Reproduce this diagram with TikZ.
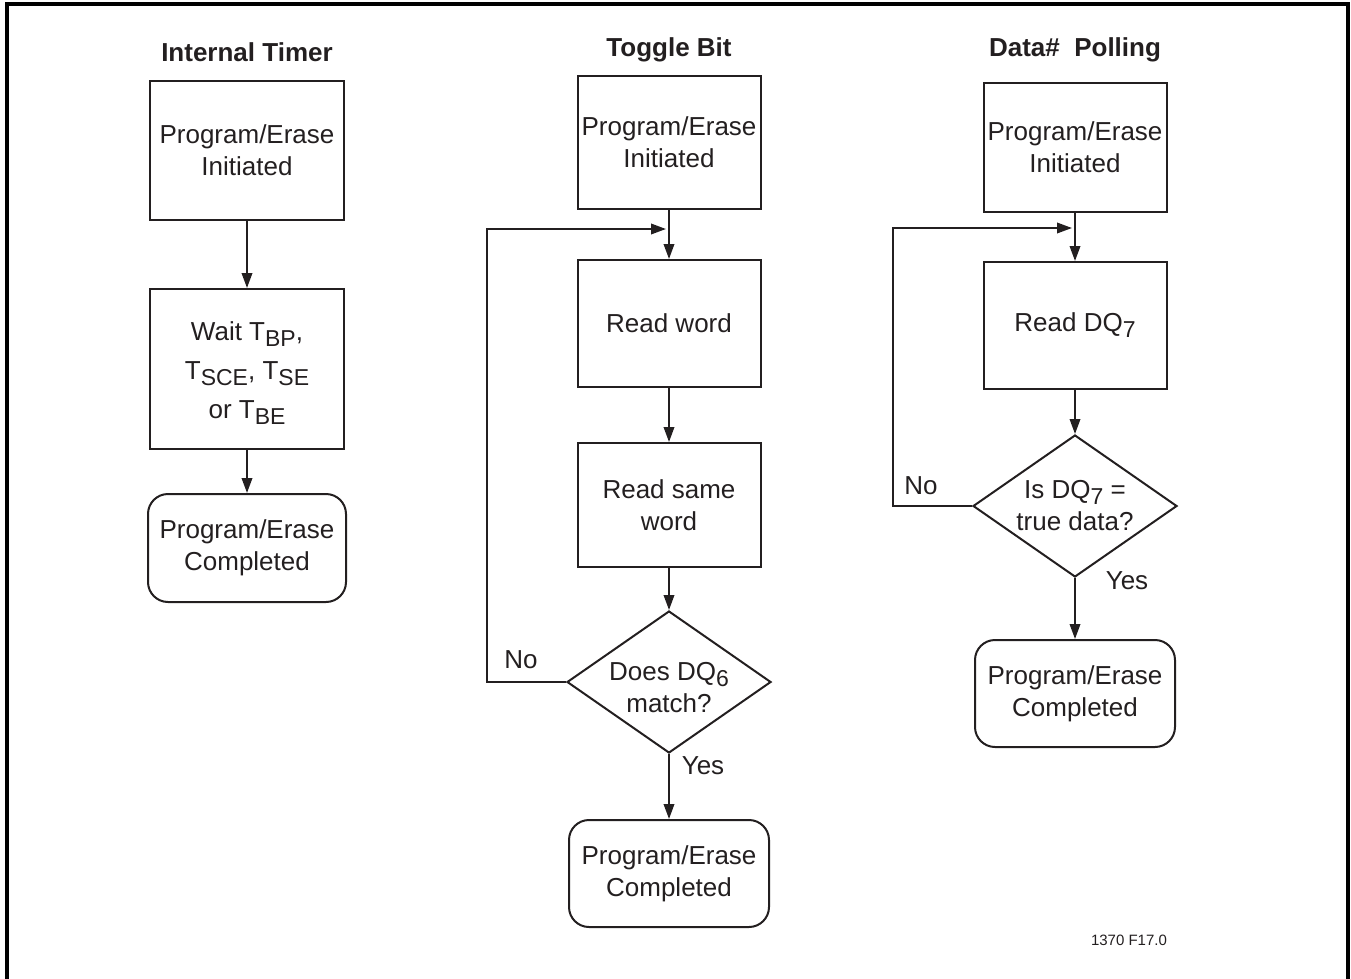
\documentclass[tikz,border=0pt]{standalone}
\usepackage{fontspec}
\setmainfont{Liberation Sans}
\usetikzlibrary{shapes.geometric,arrows.meta}
\definecolor{ink}{HTML}{231F20}
\newcommand{\sbs}[1]{\raisebox{-6pt}{\fontsize{23}{23}\selectfont #1}}
\tikzset{
  every node/.style={text=ink},
  txt/.style={font=\fontsize{26}{32}\selectfont, align=center},
  ttl/.style={font=\fontsize{26}{32}\selectfont\bfseries},
  stepbox/.style={txt, draw=ink, line width=2pt, inner sep=0pt},
  endbox/.style={txt, draw=ink, line width=2pt, inner sep=0pt, rounded corners=20pt, minimum width=200pt, minimum height=107pt},
  decision/.style={draw=ink, line width=2pt, diamond, inner sep=0pt, minimum width=204pt, minimum height=142pt},
  arr/.style={draw=ink, line width=2pt, -{Triangle[length=15pt,width=10.5pt]}},
  lbl/.style={font=\fontsize{26}{32}\selectfont},
}
\begin{document}
\begin{tikzpicture}[x=1pt,y=-1pt]
\useasboundingbox (0,0) rectangle (1351,979);
\draw[line width=4pt, black] (7,981) -- (7,4) -- (1348,4) -- (1348,981);

% Column 1
\node[ttl] (t1) at (247,52) {Internal Timer};
\node[stepbox, minimum width=194pt, minimum height=139pt] (a1) at (247,150.5) {Program/Erase\\Initiated};
\node[stepbox, minimum width=194pt, minimum height=160pt, font=\fontsize{26}{39}\selectfont] (a2) at (247,369) {\raisebox{0pt}[26pt][0pt]{}Wait T\sbs{BP},\\T\sbs{SCE}, T\sbs{SE}\\or T\sbs{BE}};
\node[endbox, minimum width=198pt, minimum height=108pt] (a3) at (247,548) {Program/Erase\\Completed};
\draw[arr] (a1.south) -- (a2.north);
\draw[arr] (a2.south) -- (a3.north);

% Column 2
\node[ttl] (t2) at (669,50) {Toggle Bit};
\node[stepbox, minimum width=183pt, minimum height=133pt] (b1) at (669,142.5) {Program/Erase\\Initiated};
\node[stepbox, minimum width=183pt, minimum height=127pt] (b2) at (669,323.5) {Read word};
\node[stepbox, minimum width=183pt, minimum height=124pt] (b3) at (669,505) {Read same\\word};
\node[decision, label={[txt, yshift=-6pt]center:Does DQ\sbs{6}\\match?}] (b4) at (669,682) {};
\node[endbox] (b5) at (669,873.5) {Program/Erase\\Completed};
\coordinate (bj) at (666,229);
\coordinate (bc) at (487,229);
\draw[arr] (b1.south) -- (b2.north);
\draw[arr] (b2.south) -- (b3.north);
\draw[arr] (b3.south) -- (b4.north);
\draw[arr] (b4.south) -- (b5.north);
\draw[arr] (b4.west) -| (bc) -- (bj);
\node[lbl] (bno) at (521,660) {No};
\node[lbl] (byes) at (703,766) {Yes};

% Column 3
\node[ttl] (t3) at (1075,50) {Data\#\ \ Polling};
\node[stepbox, minimum width=183pt, minimum height=129pt] (c1) at (1075,147.5) {Program/Erase\\Initiated};
\node[stepbox, minimum width=183pt, minimum height=127pt] (c2) at (1075,325.5) {Read DQ\sbs{7}};
\node[decision, label={[txt]center:Is DQ\sbs{7} =\\true data?}] (c3) at (1075,506) {};
\node[endbox] (c4) at (1075,693.5) {Program/Erase\\Completed};
\coordinate (cj) at (1072,228);
\coordinate (cc) at (893,228);
\draw[arr] (c1.south) -- (c2.north);
\draw[arr] (c2.south) -- (c3.north);
\draw[arr] (c3.south) -- (c4.north);
\draw[arr] (c3.west) -| (cc) -- (cj);
\node[lbl] (cno) at (921,486) {No};
\node[lbl] (cyes) at (1127,581) {Yes};

\node[font=\fontsize{15}{18}\selectfont] (fig) at (1129,940) {1370 F17.0};
\end{tikzpicture}
\end{document}
